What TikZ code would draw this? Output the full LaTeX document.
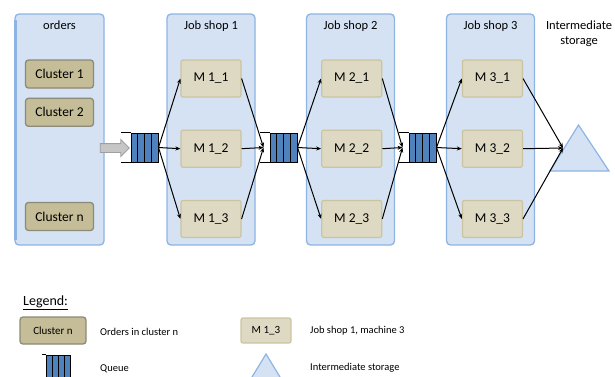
\documentclass[tikz,border=0pt]{standalone}
\usepackage{fontspec}
\setmainfont{Carlito}
\usepackage{tikz}
\usetikzlibrary{positioning,calc,arrows.meta,shapes.arrows}

\definecolor{panelfill}{HTML}{D5E2F3}
\definecolor{panelline}{HTML}{8EB4E3}
\definecolor{clusterfill}{HTML}{C4BD97}
\definecolor{clusterline}{HTML}{8C8A78}
\definecolor{machinefill}{HTML}{DDD9C3}
\definecolor{machineline}{HTML}{CCC4A0}
\definecolor{queueblue}{HTML}{4F81BD}

\begin{document}
\begin{tikzpicture}[x=1pt,y=-1pt,
  panel/.style={draw=panelline,line width=1.3pt,rounded corners=4pt,fill=panelfill,
    minimum width=88pt,minimum height=231pt,inner sep=0pt},
  title/.style={inner sep=0pt,font=\fontsize{12.5}{15}\selectfont},
  cluster/.style={draw=clusterline,line width=1.3pt,rounded corners=3pt,fill=clusterfill,
    minimum width=68pt,minimum height=28pt,inner sep=0pt,font=\fontsize{13.5}{15}\selectfont},
  machine/.style={draw=machineline,line width=1.2pt,rounded corners=2pt,fill=machinefill,
    minimum width=60pt,minimum height=37pt,inner sep=0pt,font=\fontsize{13.5}{15}\selectfont},
  queue/.style={draw=black,line width=1pt,fill=queueblue,minimum width=27pt,minimum height=29pt,inner sep=0pt,
    path picture={\foreach \k in {1,2,3}
      \draw[line width=1pt]
        ($(path picture bounding box.north west)!\k/4!(path picture bounding box.north east)$) --
        ($(path picture bounding box.south west)!\k/4!(path picture bounding box.south east)$);}},
  queueend/.style={line width=1pt},
  flow/.style={line width=1pt,-{Stealth[length=5pt,width=4pt]}},
  storage/.style={draw=panelline,line width=1.2pt,fill=panelfill},
  legendtext/.style={anchor=west,inner sep=0pt,font=\fontsize{10.5}{12}\selectfont}]

  \useasboundingbox (0,0) rectangle (615,376);
  \clip (0,0) rectangle (615,376);

  % panels
  \node (orders) [panel,minimum width=89pt] at (59.5,129.5) {};
  \draw [panelline,line width=2.5pt] (15.5,20) -- (15.5,240);
  \node (job_shop_1) [panel] at (211,129.5) {};
  \node (job_shop_2) [panel] at (350.5,129.5) {};
  \node (job_shop_3) [panel] at (490.5,129.5) {};

  \node (orders_title) [title,below=7pt of orders.north] {orders};
  \node (job_shop_1_title) [title,below=7pt of job_shop_1.north] {Job shop 1};
  \node (job_shop_2_title) [title,below=7pt of job_shop_2.north] {Job shop 2};
  \node (job_shop_3_title) [title,below=7pt of job_shop_3.north] {Job shop 3};
  \node (storage_title) [title,align=center] at (579,34) {Intermediate\\storage};

  % clusters of orders
  \node (cluster_1) [cluster] at (59.5,74) {Cluster 1};
  \node (cluster_2) [cluster,below=9pt of cluster_1] {Cluster 2};
  \node (cluster_n) [cluster] at (59.5,216.5) {Cluster n};

  % machines
  \node (machine_1_1) [machine] at (211,78.5) {M 1\_1};
  \node (machine_1_2) [machine,below=32pt of machine_1_1] {M 1\_2};
  \node (machine_1_3) [machine,below=32pt of machine_1_2] {M 1\_3};
  \node (machine_2_1) [machine,right=79.5pt of machine_1_1] {M 2\_1};
  \node (machine_2_2) [machine,below=32pt of machine_2_1] {M 2\_2};
  \node (machine_2_3) [machine,below=32pt of machine_2_2] {M 2\_3};
  \node (machine_3_1) [machine,right=79.5pt of machine_2_1] {M 3\_1};
  \node (machine_3_2) [machine,below=32pt of machine_3_1] {M 3\_2};
  \node (machine_3_3) [machine,below=32pt of machine_3_2] {M 3\_3};

  % queues
  \node (queue_1) [queue] at (144.5,147.5) {};
  \node (queue_2) [queue,right=111pt of queue_1] {};
  \node (queue_3) [queue,right=111pt of queue_2] {};
  \draw [queueend] (queue_1.north west) -- ++(-10,0) (queue_1.south west) -- ++(-10,0);
  \draw [queueend] (queue_2.north west) -- ++(-10,0) (queue_2.south west) -- ++(-10,0);
  \draw [queueend] (queue_3.north west) -- ++(-10,0) (queue_3.south west) -- ++(-10,0);
  \coordinate (queue_2_in) at ([xshift=-6pt]queue_2.west);
  \coordinate (queue_3_in) at ([xshift=-6pt]queue_3.west);

  % intermediate storage
  \draw [storage] (550,171) -- (578.5,125) -- (609,171) -- cycle;
  \coordinate (storage_in) at (563,148);

  % orders into the first queue
  \node (feed_arrow) [single arrow,draw=gray!75,fill=gray!45,line width=0.8pt,
    minimum height=29pt,minimum width=16pt,inner sep=4pt,inner xsep=0pt,
    single arrow head extend=4pt] at (112.5,148) {};

  % flows
  \draw [flow] (queue_1.east) -- (machine_1_1.west);
  \draw [flow] (queue_1.east) -- (machine_1_2.west);
  \draw [flow] (queue_1.east) -- (machine_1_3.west);
  \draw [flow] (machine_1_1.east) -- (queue_2_in);
  \draw [flow] (machine_1_2.east) -- (queue_2_in);
  \draw [flow] (machine_1_3.east) -- (queue_2_in);
  \draw [flow] (queue_2.east) -- (machine_2_1.west);
  \draw [flow] (queue_2.east) -- (machine_2_2.west);
  \draw [flow] (queue_2.east) -- (machine_2_3.west);
  \draw [flow] (machine_2_1.east) -- (queue_3_in);
  \draw [flow] (machine_2_2.east) -- (queue_3_in);
  \draw [flow] (machine_2_3.east) -- (queue_3_in);
  \draw [flow] (queue_3.east) -- (machine_3_1.west);
  \draw [flow] (queue_3.east) -- (machine_3_2.west);
  \draw [flow] (queue_3.east) -- (machine_3_3.west);
  \draw [flow] (machine_3_1.east) -- (storage_in);
  \draw [flow] (machine_3_2.east) -- (storage_in);
  \draw [flow] (machine_3_3.east) -- (storage_in);

  % legend
  \node (legend_title) [anchor=west,inner sep=0pt,font=\fontsize{14}{16}\selectfont] at (23,303) {\underline{Legend:}};
  \node (legend_cluster) [cluster,minimum width=66pt,minimum height=27pt,font=\fontsize{11}{13}\selectfont] at (53,330.5) {Cluster n};
  \node (legend_cluster_text) [legendtext] at (100,331.5) {Orders in cluster n};
  \node (legend_machine) [machine,minimum width=50pt,minimum height=25pt,font=\fontsize{11}{13}\selectfont] at (266,330.5) {M 1\_3};
  \node (legend_machine_text) [legendtext] at (310,331) {Job shop 1, machine 3};
  \node (legend_queue) [queue,minimum width=24pt] at (58.5,369.5) {};
  \draw [queueend] (legend_queue.north west) -- ++(-4,0);
  \node (legend_queue_text) [legendtext] at (100,369) {Queue};
  \draw [storage] (238,400) -- (266,354) -- (294,400) -- cycle;
  \node (legend_storage_text) [legendtext] at (310,367.5) {Intermediate storage};
\end{tikzpicture}
\end{document}
